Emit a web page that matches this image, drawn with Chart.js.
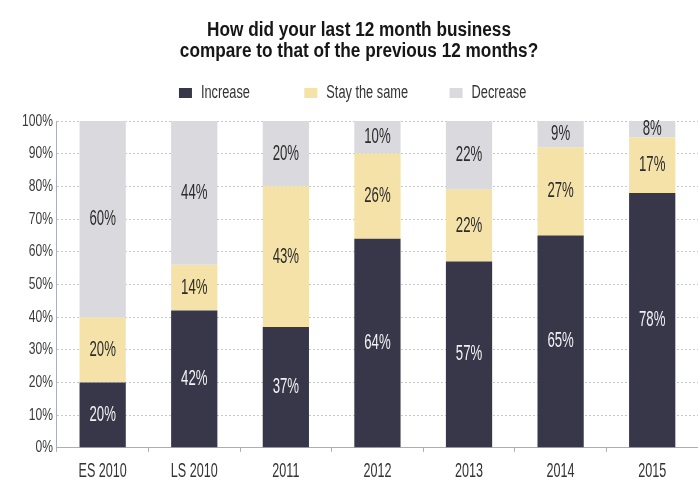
<!DOCTYPE html>
<html>
<head>
<meta charset="utf-8">
<script src="https://cdn.jsdelivr.net/npm/chart.js@4"></script>
<style>
  html, body { margin: 0; padding: 0; background: #fff; }
  #wrap { width: 698px; height: 485px; }
</style>
</head>
<body>
<div id="wrap"><canvas id="myChart" width="698" height="485"></canvas></div>
<script>
const categories = ['ES 2010', 'LS 2010', '2011', '2012', '2013', '2014', '2015'];
const increase = [20, 42, 37, 64, 57, 65, 78];
const stayTheSame = [20, 14, 43, 26, 22, 27, 17];
const decrease = [60, 44, 20, 10, 22, 9, 8];
const yTicks = [0, 10, 20, 30, 40, 50, 60, 70, 80, 90, 100];

const FONT = "'Liberation Sans', Arial, sans-serif";

// no condensed face is installed, so squeeze text horizontally around its anchor
function squeezeFor(font) {
  const size = parseFloat((font.match(/(\d+(?:\.\d+)?)px/) || [0, 12])[1]);
  if (/bold|700/.test(font)) return 0.86;
  return size >= 20 ? 0.6 : 0.71;
}
function condenseText(ctx) {
  const proto = CanvasRenderingContext2D.prototype;
  ctx.fillText = function (text, x, y, maxWidth) {
    const k = squeezeFor(this.font);
    this.save();
    this.translate(x, y);
    this.scale(k, 1);
    if (maxWidth === undefined) proto.fillText.call(this, text, 0, 0);
    else proto.fillText.call(this, text, 0, 0, maxWidth / k);
    this.restore();
  };
  ctx.measureText = function (text) {
    const m = proto.measureText.call(this, text);
    const k = squeezeFor(this.font);
    return {
      width: m.width * k,
      actualBoundingBoxLeft: m.actualBoundingBoxLeft * k,
      actualBoundingBoxRight: m.actualBoundingBoxRight * k,
      actualBoundingBoxAscent: m.actualBoundingBoxAscent,
      actualBoundingBoxDescent: m.actualBoundingBoxDescent
    };
  };
}

// writes each segment's value in the middle of the part that is visible
const segmentLabels = {
  id: 'segmentLabels',
  afterDatasetsDraw(chart) {
    const ctx = chart.ctx;
    const top = chart.chartArea.top;
    ctx.save();
    ctx.font = '22px ' + FONT;
    ctx.textAlign = 'center';
    ctx.textBaseline = 'middle';
    chart.data.datasets.forEach((ds, i) => {
      const meta = chart.getDatasetMeta(i);
      meta.data.forEach((bar, j) => {
        const yTop = Math.max(bar.y, top);
        ctx.fillStyle = i === 0 ? '#f2f2f4' : '#2b2b2b';
        ctx.fillText(ds.data[j] + '%', bar.x, (yTop + bar.base) / 2);
      });
    });
    ctx.restore();
  }
};

// spacing after each legend entry
const legendGaps = ['\u2003\u2003\u2003', '\u2003\u2003', '\u2003'];

function createChart() {
  const canvas = document.getElementById('myChart');
  condenseText(canvas.getContext('2d'));
  new Chart(canvas, {
    type: 'bar',
    data: {
      labels: categories,
      datasets: [
        { label: 'Increase', data: increase, backgroundColor: '#38374a' },
        { label: 'Stay the same', data: stayTheSame, backgroundColor: '#f4e2a8' },
        { label: 'Decrease', data: decrease, backgroundColor: '#dadade' }
      ]
    },
    options: {
      responsive: false,
      animation: false,
      layout: { padding: { top: 0, right: -2, left: 18, bottom: -6 } },
      datasets: { bar: { categoryPercentage: 1, barPercentage: 0.505 } },
      plugins: {
        title: {
          display: true,
          text: ['How did your last 12 month business', 'compare to that of the previous 12 months?'],
          color: '#161616',
          font: { family: FONT, size: 20, weight: 'bold', lineHeight: 1.05 },
          padding: { top: 20, bottom: 6 }
        },
        subtitle: {
          // spacer between the legend and the plot
          display: true,
          text: ' ',
          weight: 0,
          font: { size: 1, lineHeight: 1 },
          padding: { top: 0, bottom: 8 }
        },
        legend: {
          labels: {
            boxWidth: 13, boxHeight: 10, padding: 16,
            color: '#333',
            font: { family: FONT, size: 18 },
            generateLabels(chart) {
              const items = Chart.defaults.plugins.legend.labels.generateLabels(chart);
              items.forEach((it, i) => { it.text += legendGaps[i] || ''; it.lineWidth = 0; });
              return items;
            }
          }
        },
        tooltip: { enabled: false }
      },
      scales: {
        x: {
          stacked: true,
          grid: { display: true, drawOnChartArea: false, drawTicks: true, tickLength: 4, color: '#a9adbf', offset: true },
          border: { color: '#a9adbf' },
          ticks: { color: '#333', font: { family: FONT, size: 21 }, padding: 7 }
        },
        y: {
          stacked: true,
          min: 0, max: 100,
          afterBuildTicks: (axis) => { axis.ticks = yTicks.map(v => ({ value: v })); },
          grid: { color: '#c3c6d6', drawTicks: false },
          border: { color: '#a9adbf', dash: [2, 2] },
          ticks: { color: '#3a3a3a', font: { family: FONT, size: 17 }, padding: 4, callback: v => v + '%' }
        }
      }
    },
    plugins: [segmentLabels]
  });
}
createChart();
</script>
</body>
</html>
